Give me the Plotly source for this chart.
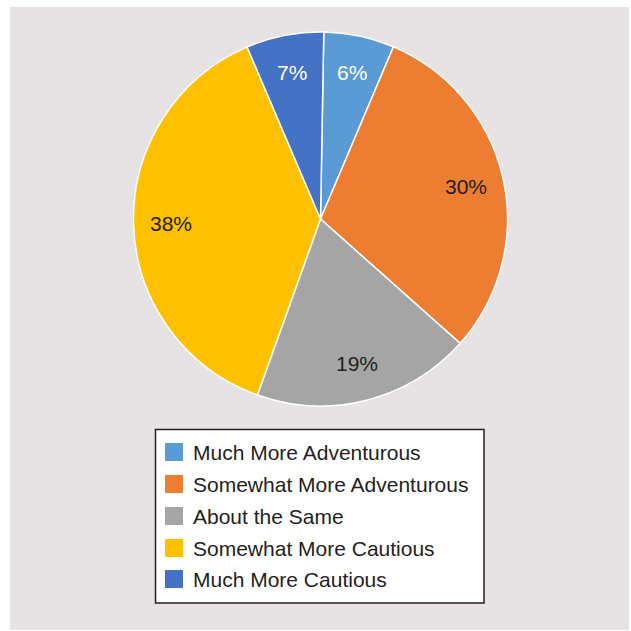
import math
import plotly.graph_objects as go

categories = ["Much More Adventurous", "Somewhat More Adventurous", "About the Same",
              "Somewhat More Cautious", "Much More Cautious"]
values = [6.1, 30.2, 18.9, 38.1, 6.7]
colors = ["#5b9bd5", "#ed7d31", "#a5a5a5", "#ffc000", "#4472c4"]
label_colors = ["white", "#231f20", "#231f20", "#231f20", "white"]

W = H = 631
cx, cy, R = 320.5, 219.0, 187.0
rotation = 1.0
FONT = "Liberation Sans, Arial, Helvetica, sans-serif"

fig = go.Figure()
fig.add_trace(go.Pie(
    labels=categories, values=values, sort=False, direction="clockwise",
    rotation=rotation, marker=dict(colors=colors, line=dict(color="white", width=1.5)),
    textinfo="none", hoverinfo="label+percent", showlegend=False,
    domain=dict(x=[(cx - R) / W, (cx + R) / W], y=[1 - (cy + R) / H, 1 - (cy - R) / H]),
))

shapes = [dict(type="rect", xref="paper", yref="paper", x0=10 / W, x1=629 / W,
               y0=1 - 630 / H, y1=1 - 7 / H, fillcolor="#e7e2e4", line=dict(width=0), layer="below")]
annotations = []

# slice labels at 0.8R along the mid angle of each slice
total = sum(values)
cum = 0.0
for v, lc in zip(values, label_colors):
    mid = (cum + v / 2) / total * 360 + rotation
    cum += v
    a = math.radians(mid)
    px = cx + 0.8 * R * math.sin(a)
    py = cy - 0.8 * R * math.cos(a)
    annotations.append(dict(x=px / W, y=1 - py / H, xref="paper", yref="paper",
                            text=f"{round(v / total * 100)}%", showarrow=False,
                            font=dict(family=FONT, size=21, color=lc),
                            xanchor="center", yanchor="middle"))

# legend box
lx0, lx1, ly0, ly1 = 155.5, 484, 429.5, 603
shapes.append(dict(type="rect", xref="paper", yref="paper", x0=lx0 / W, x1=lx1 / W,
                   y0=1 - ly1 / H, y1=1 - ly0 / H, fillcolor="white",
                   line=dict(color="#231f20", width=1.5)))
row_y = [452, 484, 516, 548, 579]
for name, col, ry in zip(categories, colors, row_y):
    shapes.append(dict(type="rect", xref="paper", yref="paper", x0=165 / W, x1=183 / W,
                       y0=1 - (ry + 9) / H, y1=1 - (ry - 9) / H, fillcolor=col, line=dict(width=0)))
    annotations.append(dict(x=191 / W, y=1 - ry / H, xref="paper", yref="paper", text=name,
                            showarrow=False, xanchor="left", yanchor="middle",
                            font=dict(family=FONT, size=21, color="#231f20")))

fig.update_layout(width=W, height=H, margin=dict(l=0, r=0, t=0, b=0),
                  paper_bgcolor="white", plot_bgcolor="white",
                  shapes=shapes, annotations=annotations)
fig.write_html("out.html")
